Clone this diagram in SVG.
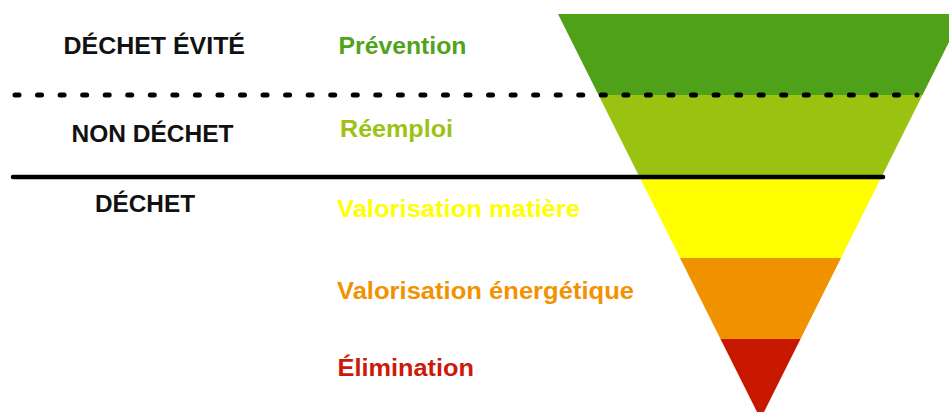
<svg xmlns="http://www.w3.org/2000/svg" width="949" height="412" viewBox="0 0 949 412">
  <style>
    text { font-family: "Liberation Sans", Arial, sans-serif; font-weight: bold; font-size: 23px; }
    .cat { fill: #111111; }
  </style>
  <rect x="0" y="0" width="949" height="412" fill="#ffffff"/>
  <g id="pyramid">
    <g id="band-prevention"><polygon points="558,14 963,14 922.5,95 598.5,95" fill="#4FA119"/></g>
    <g id="band-reemploi"><polygon points="598.5,95 922.5,95 881.5,177 639.5,177" fill="#9AC211"/></g>
    <g id="band-matiere"><polygon points="639.5,177 881.5,177 841,258 680,258" fill="#FFFF00"/></g>
    <g id="band-energetique"><polygon points="680,258 841,258 800.5,339 720.5,339" fill="#F09200"/></g>
    <g id="band-elimination"><polygon points="720.5,339 800.5,339 760.5,419" fill="#C91800"/></g>
  </g>
  <g id="connectors">
    <line x1="15" y1="95" x2="917" y2="95" stroke="#000" stroke-width="5" stroke-linecap="round" stroke-dasharray="4 18.55"/>
    <line x1="13" y1="177" x2="883" y2="177" stroke="#000" stroke-width="4.5" stroke-linecap="round"/>
  </g>
  <g id="label-dechet-evite"><text class="cat" x="63.5" y="53.5" textLength="181.5" lengthAdjust="spacingAndGlyphs">DÉCHET ÉVITÉ</text></g>
  <g id="label-non-dechet"><text class="cat" x="71.5" y="141.5" textLength="162" lengthAdjust="spacingAndGlyphs">NON DÉCHET</text></g>
  <g id="label-dechet"><text class="cat" x="95" y="212" textLength="100" lengthAdjust="spacingAndGlyphs">DÉCHET</text></g>
  <g id="label-prevention"><text x="338.5" y="53.5" fill="#52A31C" textLength="128" lengthAdjust="spacingAndGlyphs">Prévention</text></g>
  <g id="label-reemploi"><text x="340" y="137" fill="#9CC214" textLength="113" lengthAdjust="spacingAndGlyphs">Réemploi</text></g>
  <g id="label-matiere"><text x="337" y="217" fill="#FFFF00" textLength="243" lengthAdjust="spacingAndGlyphs">Valorisation matière</text></g>
  <g id="label-energetique"><text x="337" y="299" fill="#F29200" textLength="297" lengthAdjust="spacingAndGlyphs">Valorisation énergétique</text></g>
  <g id="label-elimination"><text x="337.5" y="376" fill="#CC1A0A" textLength="136.5" lengthAdjust="spacingAndGlyphs">Élimination</text></g>
</svg>
